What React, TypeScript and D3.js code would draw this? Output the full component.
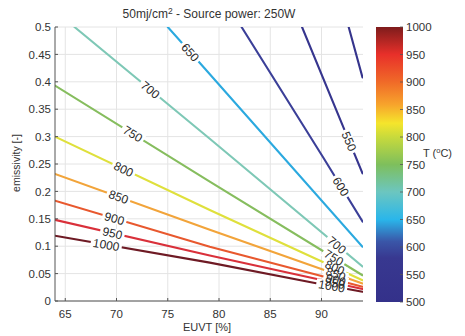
import React from "react";
import * as d3 from "d3";

// contour levels (deg C) and the lines: [EUVT %, emissivity]
const levels = [500, 550, 600, 650, 700, 750, 800, 850, 900, 950, 1000];
const c500 = [[92.65, 0.5], [94, 0.408]];
const c550 = [[88.1, 0.5], [92.2, 0.314], [94, 0.233]];
const c600 = [[82.2, 0.5], [90.2, 0.261], [94, 0.145]];
const c650 = [[75.0, 0.5], [78.2, 0.433], [94, 0.099]];
const c700 = [[65.9, 0.5], [79.1, 0.296], [94, 0.063]];
const c750 = [[64, 0.393], [79.1, 0.218], [94, 0.047]];
const c800 = [[64, 0.3], [79.1, 0.166], [94, 0.038]];
const c850 = [[64, 0.232], [79.1, 0.13], [94, 0.032]];
const c900 = [[64, 0.183], [79.1, 0.099], [94, 0.026]];
const c950 = [[64, 0.148], [79.1, 0.083], [94, 0.022]];
const c1000 = [[64, 0.119], [79.1, 0.07], [89.6, 0.032], [94, 0.017]];
const contours = [c500, c550, c600, c650, c700, c750, c800, c850, c900, c950, c1000];

// inline labels: [level, EUVT where the label sits]
const labels = [
  [650, 77.2], [700, 73.3], [750, 71.6], [800, 70.7], [850, 70.2],
  [900, 69.8], [950, 69.6], [1000, 69.0],
  [550, 92.7], [600, 91.9], [700, 91.5], [750, 91.2], [800, 91.3],
  [850, 91.4], [900, 91.4], [950, 91.3], [1000, 91.0],
];

const xTicks = [65, 70, 75, 80, 85, 90];
const yTicks = [0, 0.05, 0.1, 0.15, 0.2, 0.25, 0.3, 0.35, 0.4, 0.45, 0.5];
const cbTicks = [500, 550, 600, 650, 700, 750, 800, 850, 900, 950, 1000];

const lineColors = ["#35348c", "#36358e", "#3b3f98", "#2ba9df", "#7ec8b6", "#86bd5e",
  "#dfe03c", "#f2a43a", "#e8582e", "#d9303a", "#6e1a24"];
const cbStops = [
  [500, "#34318a"], [580, "#383890"], [610, "#3a56a8"], [650, "#2ab6ea"],
  [700, "#6cc6c0"], [750, "#7ebf5c"], [800, "#c8da3c"], [825, "#f5e52c"],
  [860, "#f7a22c"], [900, "#f06a28"], [950, "#e8302a"], [1000, "#7e1c1c"],
];

const FONT = "'Liberation Sans', Arial, sans-serif";

export default function App() {
  const x = d3.scaleLinear().domain([64, 94]).range([55, 362.5]);
  const y = d3.scaleLinear().domain([0, 0.5]).range([301, 27]);
  const cy = d3.scaleLinear().domain([500, 1000]).range([302, 27]);

  const line = d3.line<number[]>().x((d) => x(d[0])).y((d) => y(d[1]));

  const at = (pts: number[][], e: number) => {
    for (let i = 0; i < pts.length - 1; i++) {
      const [a, b] = [pts[i], pts[i + 1]];
      if (e >= a[0] && e <= b[0]) {
        const t = (e - a[0]) / (b[0] - a[0]);
        const ang = (Math.atan2(y(b[1]) - y(a[1]), x(b[0]) - x(a[0])) * 180) / Math.PI;
        return { v: a[1] + t * (b[1] - a[1]), ang };
      }
    }
    return { v: pts[pts.length - 1][1], ang: 0 };
  };

  const lab = labels.map(([lv, e]) => {
    const pts = contours[levels.indexOf(lv)];
    const r = at(pts, e);
    return { lv, px: x(e), py: y(r.v), ang: r.ang, w: String(lv).length * 6.6 + 5 };
  });

  return (
    <svg width={465} height={336} style={{ position: "absolute", left: 0, top: 0, background: "#fff" }}
      fontFamily={FONT}>
      <defs>
        <linearGradient id="cb" x1="0" y1="1" x2="0" y2="0">
          {cbStops.map(([v, c]) => (
            <stop key={v} offset={`${((+v - 500) / 500) * 100}%`} stopColor={c as string} />
          ))}
        </linearGradient>
        <clipPath id="plot">
          <rect x={55} y={27} width={308} height={274} />
        </clipPath>
      </defs>

      {/* grid */}
      {xTicks.map((t) => (
        <line key={t} x1={x(t)} x2={x(t)} y1={27} y2={301} stroke="#e4e4e4" strokeWidth={1} />
      ))}
      {yTicks.map((t) => (
        <line key={t} x1={55} x2={363} y1={y(t)} y2={y(t)} stroke="#e4e4e4" strokeWidth={1} />
      ))}

      {/* contour lines */}
      <g clipPath="url(#plot)">
        {contours.map((pts, i) => (
          <path key={i} d={line(pts as any) || ""} fill="none" stroke={lineColors[i]}
            strokeWidth={2.1} strokeLinecap="round" />
        ))}
      </g>

      {/* inline labels */}
      {lab.map((l, i) => (
        <rect key={"r" + i} x={-l.w / 2} y={-5} width={l.w} height={10} fill="#fff"
          transform={`translate(${l.px},${l.py}) rotate(${l.ang})`} />
      ))}
      {lab.map((l, i) => (
        <text key={"t" + i} transform={`translate(${l.px},${l.py}) rotate(${l.ang})`}
          textAnchor="middle" dy="0.36em" fontSize={12} fill="#2a2a2a">
          {l.lv}
        </text>
      ))}

      {/* axes */}
      <line x1={55} x2={55} y1={27} y2={301} stroke="#555" />
      <line x1={55} x2={363} y1={301} y2={301} stroke="#555" />
      {xTicks.map((t) => (
        <g key={t}>
          <line x1={x(t)} x2={x(t)} y1={301} y2={298} stroke="#555" />
          <text x={x(t)} y={318} textAnchor="middle" fontSize={11.5} fill="#333">{t}</text>
        </g>
      ))}
      {yTicks.map((t) => (
        <g key={t}>
          <line x1={55} x2={58} y1={y(t)} y2={y(t)} stroke="#555" />
          <text x={51} y={y(t)} dy="0.36em" textAnchor="end" fontSize={11.5} fill="#333">{t}</text>
        </g>
      ))}

      {/* titles */}
      <text x={209} y={18} textAnchor="middle" fontSize={12} fill="#333">
        50mj/cm<tspan dy={-4} fontSize={8.5}>2</tspan><tspan dy={4}> - Source power: 250W</tspan>
      </text>
      <text x={207} y={331} textAnchor="middle" fontSize={11} fill="#333">EUVT [%]</text>
      <text transform="translate(20,163) rotate(-90)" textAnchor="middle" fontSize={10.5} fill="#333">
        emissivity [-]
      </text>

      {/* colorbar */}
      <rect x={376} y={27} width={27} height={275} fill="url(#cb)" />
      {cbTicks.map((t) => (
        <g key={t}>
          <line x1={400} x2={403} y1={cy(t)} y2={cy(t)} stroke="#555" strokeWidth={0.8} />
          <text x={406} y={cy(t)} dy="0.36em" fontSize={11.5} fill="#333">{t}</text>
        </g>
      ))}
      <text x={423} y={157} fontSize={11} fill="#333">
        T (<tspan dy={-4} fontSize={7.5}>o</tspan><tspan dy={4}>C)</tspan>
      </text>
    </svg>
  );
}
